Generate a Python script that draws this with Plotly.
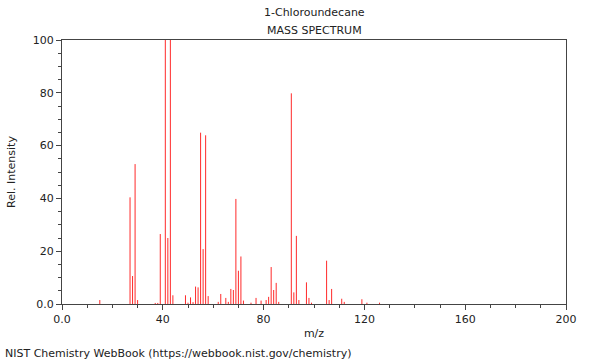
import plotly.graph_objects as go

mz = [15, 27, 28, 29, 30, 37, 38, 39, 41, 42, 43, 44,
      49, 50, 51, 52, 53, 54, 55, 56, 57, 58,
      62, 63, 65, 66, 67, 68, 69, 70, 71, 72,
      75, 77, 79, 81, 82, 83, 84, 85, 86,
      91, 92, 93, 94, 97, 98, 99,
      105, 106, 107, 111, 112, 119, 121, 126]
intensity = [1.5, 40.4, 10.6, 53.0, 1.5, 0.4, 0.4, 26.5, 100.0, 25.0, 100.0, 3.3,
             3.3, 0.5, 2.5, 0.7, 6.6, 6.3, 64.9, 20.8, 63.9, 3.0,
             0.8, 3.8, 2.3, 0.8, 5.7, 5.3, 39.8, 12.6, 18.0, 1.3,
             0.5, 2.3, 1.3, 1.5, 2.7, 14.0, 5.3, 8.0, 0.8,
             79.8, 4.4, 25.8, 1.5, 8.2, 2.3, 0.5,
             16.4, 1.5, 5.7, 2.0, 0.8, 1.8, 0.5, 0.5]

x_ticks = [0, 40, 80, 120, 160, 200]
x_labels = ["0.0", "40", "80", "120", "160", "200"]
y_ticks = [0, 20, 40, 60, 80, 100]
y_labels = ["0.0", "20", "40", "60", "80", "100"]

xs, ys = [], []
for m, v in zip(mz, intensity):
    xs += [m, m, None]
    ys += [0, v, None]

fig = go.Figure()
fig.add_trace(go.Scatter(x=xs, y=ys, mode="lines",
                         line=dict(color="#ff2a2a", width=1),
                         hoverinfo="skip", showlegend=False))

font = dict(family="DejaVu Sans", size=11, color="#222")
axis_common = dict(showgrid=False, zeroline=False, showline=True, linecolor="#444",
                   linewidth=1, mirror=True, ticks="outside", ticklen=5,
                   tickcolor="#444", tickfont=font)

fig.update_xaxes(range=[0, 200], tickvals=x_ticks, ticktext=x_labels,
                 minor=dict(dtick=10, tick0=0, ticks="outside", ticklen=3, tickcolor="#444"),
                 title=dict(text="m/z", font=font, standoff=4), **axis_common)
fig.update_yaxes(range=[0, 100], tickvals=y_ticks, ticktext=y_labels,
                 minor=dict(dtick=5, tick0=0, ticks="outside", ticklen=3, tickcolor="#444"),
                 title=dict(text="Rel. Intensity", font=font, standoff=14), **axis_common)

H = 264.0
W = 504.0
fig.update_layout(
    width=600, height=360,
    margin=dict(l=62, r=34, t=40, b=56),
    paper_bgcolor="white", plot_bgcolor="white",
    font=font,
    annotations=[
        dict(text="1-Chloroundecane", xref="paper", yref="paper", x=0.5, y=1 + (40 - 13) / H,
             showarrow=False, font=font, yanchor="middle"),
        dict(text="MASS SPECTRUM", xref="paper", yref="paper", x=0.5, y=1 + (40 - 30) / H,
             showarrow=False, font=font, yanchor="middle"),
        dict(text="NIST Chemistry WebBook (https://webbook.nist.gov/chemistry)",
             xref="paper", yref="paper", x=(3 - 62) / W, y=-(353 - 304) / H,
             showarrow=False, font=font, xanchor="left", yanchor="middle"),
    ],
)

fig.write_html("out.html", config={"displayModeBar": False},
               post_script="document.body.style.margin='0';document.body.style.overflow='hidden';")
